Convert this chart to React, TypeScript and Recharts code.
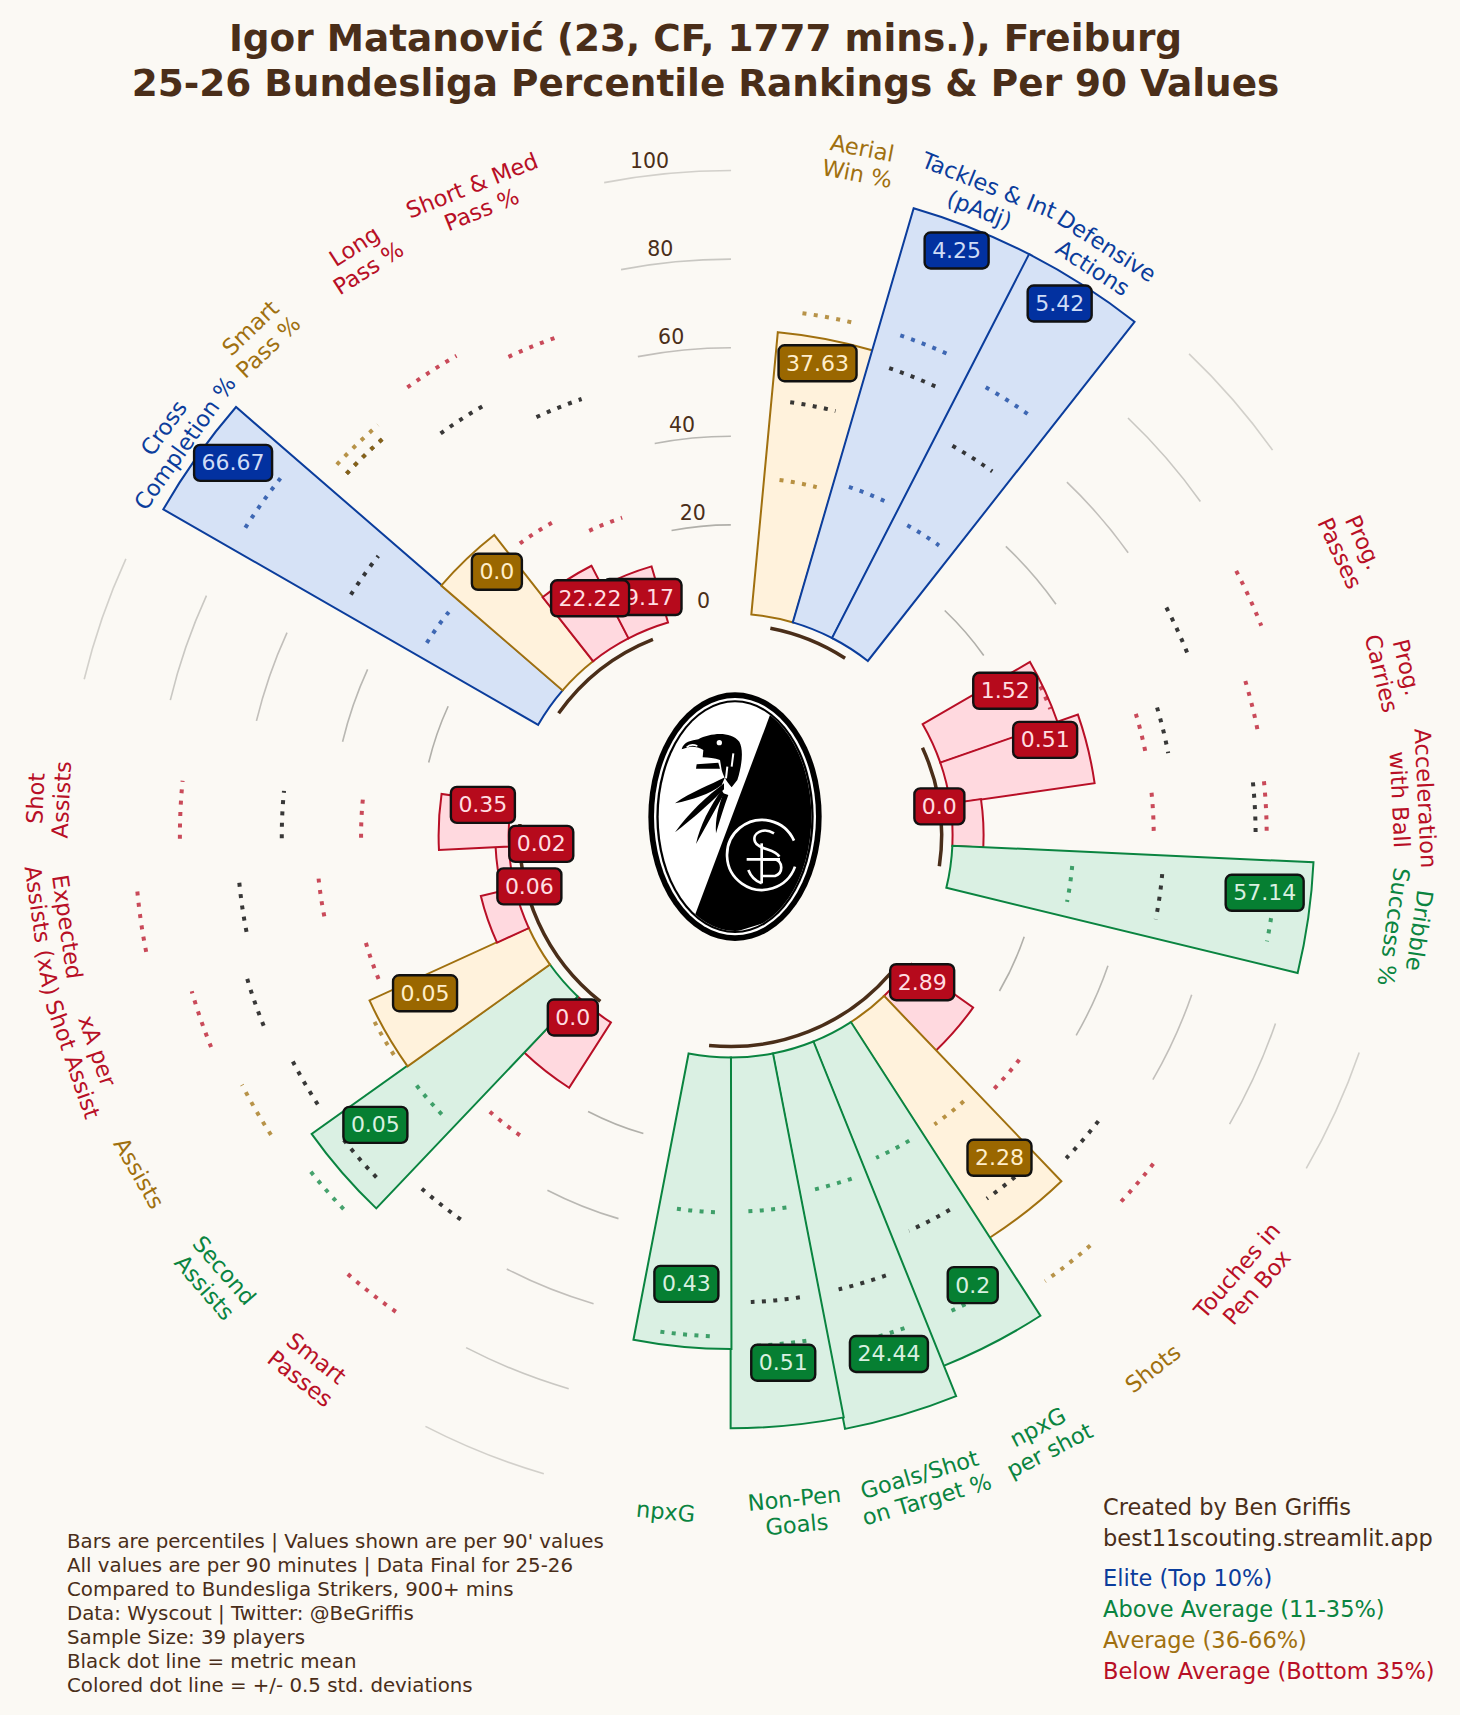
import { PolarAngleAxis, PolarRadiusAxis, RadialBar, RadialBarChart, Sector } from "recharts";

const metricNames = [
  "Aerial\nWin %", "Tackles & Int\n(pAdj)", "Defensive\nActions",
  "Prog.\nPasses", "Prog.\nCarries", "Acceleration\nwith Ball", "Dribble\nSuccess %",
  "Touches in\nPen Box", "Shots", "npxG\nper shot", "Goals/Shot\non Target %", "Non-Pen\nGoals", "npxG",
  "Smart\nPasses", "Second\nAssists", "Assists", "xA per\nShot Assist", "Expected\nAssists (xA)", "Shot\nAssists",
  "Cross\nCompletion %", "Smart\nPass %", "Long\nPass %", "Short & Med\nPass %",
];
const groupSizes = [3, 4, 6, 6, 4];
const percentiles = [64, 97.4, 97.4, 28, 32.9, 7, 81.6, 17, 57.9, 78.9, 86.3, 83.7, 65.8, 17.5, 66, 39.5, 7.9, 3, 15.8, 97.6, 36.2, 18.4, 13.2];
const perNinety = ["37.63", "4.25", "5.42", "1.52", "0.51", "0.0", "57.14", "2.89", "2.28", "0.2", "24.44", "0.51", "0.43", "0.0", "0.05", "0.05", "0.06", "0.02", "0.35", "66.67", "0.0", "22.22", "79.17"];
const tiers = ["average", "elite", "elite", "below", "below", "below", "above", "below", "average", "above", "above", "above", "above", "below", "above", "average", "below", "below", "below", "elite", "average", "below", "below"];
const meanLine = [48.6, 61.3, 51.1, 60.9, 50.4, 68.4, 47.7, 55, 50.2, 47.8, 55.2, 55.3, 51, 55.8, 61, 61.1, 63.7, 61.3, 51.2, 51.4, 69, 61.8, 54];
const lowLine = [30.9, 33, 30.5, 27.5, 45.4, 45.4, 27.3, 32.4, 29.7, 29.7, 32, 34.8, 35, 32.6, 40.5, 40.6, 35.7, 43.4, 33.3, 31.1, 69, 31.2, 25.7];
const highLine = [68.9, 69.1, 66.3, 78.7, 71.2, 70.9, 73.3, 70.7, 73, 68.2, 67.8, 65.2, 63, 81.3, 71.3, 73.7, 76.5, 84.4, 74.2, 79.6, 72, 74.6, 69];
const gridTicks = [20, 40, 60, 80, 100];
const axisTicks = [0, 20, 40, 60, 80, 100];

const footerLines = [
  "Bars are percentiles | Values shown are per 90' values",
  "All values are per 90 minutes | Data Final for 25-26",
  "Compared to Bundesliga Strikers, 900+ mins",
  "Data: Wyscout | Twitter: @BeGriffis",
  "Sample Size: 39 players",
  "Black dot line = metric mean",
  "Colored dot line = +/- 0.5 std. deviations",
];
const legendLines = [
  { text: "Elite (Top 10%)", tier: "elite" },
  { text: "Above Average (11-35%)", tier: "above" },
  { text: "Average (36-66%)", tier: "average" },
  { text: "Below Average (Bottom 35%)", tier: "below" },
];

const BROWN = "#4a2e19";
const PAPER = "#fbf9f4";
const FONT = "'DejaVu Sans', sans-serif";
const tierStyle: Record<string, { line: string; fill: string; box: string; ink: string }> = {
  elite: { line: "#0b3d9c", fill: "#d6e2f6", box: "#0231a0", ink: "#cfdcf6" },
  above: { line: "#0a8440", fill: "#daf0e3", box: "#067f32", ink: "#d9f0e0" },
  average: { line: "#a0700f", fill: "#fff2dc", box: "#9a6700", ink: "#ffeecb" },
  below: { line: "#b80f26", fill: "#ffd9df", box: "#b60a1c", ink: "#ffdde1" },
};

// table for the charts: every group is followed by two empty bands
type Row = { name: string; i?: number; span?: number; gapStart?: boolean };
const rows: Row[] = [];
let metric = 0;
groupSizes.forEach((size, g) => {
  for (let k = 0; k < size; k++) {
    rows.push({ name: metricNames[metric], i: metric, span: k === 0 ? size : 0 });
    metric++;
  }
  rows.push({ name: `gap-${g}-a`, gapStart: true });
  rows.push({ name: `gap-${g}-b` });
});

const CX = 730.6;
const CY = 835.5;
const R0 = 222;
const R100 = 665;
const BAND = 360 / rows.length;
const FIRST_EDGE = 84.55; // leading edge of the first bar

const polar = (r: number, a: number) => ({
  x: CX + r * Math.cos((a * Math.PI) / 180),
  y: CY - r * Math.sin((a * Math.PI) / 180),
});
const arcPath = (r: number, a0: number, a1: number) => {
  const p0 = polar(r, a0);
  const p1 = polar(r, a1);
  return `M${p0.x} ${p0.y}A${r} ${r} 0 0 ${a0 > a1 ? 1 : 0} ${p1.x} ${p1.y}`;
};
const has = (p: any) => p.payload && p.payload.i !== undefined;

const barShape = (p: any) => {
  if (!has(p)) return null;
  const t = tierStyle[tiers[p.payload.i]];
  return (
    <Sector
      cx={p.cx}
      cy={p.cy}
      innerRadius={p.innerRadius}
      outerRadius={p.outerRadius}
      startAngle={p.startAngle}
      endAngle={p.endAngle}
      fill={t.fill}
      stroke={t.line}
      strokeWidth={2}
    />
  );
};

const dotShape = (colored: boolean) => (p: any) => {
  if (!has(p)) return null;
  const mid = (p.startAngle + p.endAngle) / 2;
  const half = Math.abs(p.endAngle - p.startAngle) * 0.275;
  return (
    <path
      d={arcPath(p.outerRadius, mid + half, mid - half)}
      fill="none"
      stroke={colored ? tierStyle[tiers[p.payload.i]].line : "#222"}
      strokeOpacity={colored ? 0.75 : 0.9}
      strokeWidth={4}
      strokeDasharray="4 7.4"
    />
  );
};

const gridShape = (p: any) => {
  if (!p.payload || !p.payload.gapStart) return null;
  const mid = (p.startAngle + p.endAngle) / 2;
  const band = Math.abs(p.endAngle - p.startAngle);
  const fade = 1 - (0.5 * (p.outerRadius - R0)) / (R100 - R0);
  return <path d={arcPath(p.outerRadius, mid, mid - band)} fill="none" stroke="#a9a7a2" strokeOpacity={fade} strokeWidth={1.6} />;
};

const groupArcShape = (p: any) => {
  if (!p.payload || !p.payload.span) return null;
  const mid = (p.startAngle + p.endAngle) / 2;
  const band = Math.abs(p.endAngle - p.startAngle);
  return <path d={arcPath(p.outerRadius - 11, mid, mid - band * (p.payload.span - 1))} fill="none" stroke={BROWN} strokeWidth={3.5} />;
};

const labelShape = (p: any) => {
  if (!has(p)) return null;
  const text = perNinety[p.payload.i];
  const t = tierStyle[tiers[p.payload.i]];
  const at = polar(p.outerRadius - 44, (p.startAngle + p.endAngle) / 2);
  const width = (text.length - 1) * 14 + 7 + 15;
  const y = at.y - 19;
  return (
    <g>
      <rect x={at.x - width / 2} y={y - 18} width={width} height={36} rx={6} fill={t.box} stroke="#111" strokeWidth={2.4} />
      <text x={at.x} y={y} fill={t.ink} fontSize={22} fontFamily={FONT} textAnchor="middle" dominantBaseline="central">
        {text}
      </text>
    </g>
  );
};

const metricTick = (p: any) => {
  const name: string = p.payload.value;
  const idx = metricNames.indexOf(name);
  if (idx < 0) return <g />;
  const theta = ((90 - p.payload.coordinate) % 360 + 360) % 360;
  const rot = theta > 100 && theta < 270 ? theta - 180 : theta;
  const lines = name.split("\n");
  const y = p.y - 4;
  return (
    <text
      x={p.x}
      y={y}
      transform={`rotate(${rot} ${p.x} ${y})`}
      fill={tierStyle[tiers[idx]].line}
      fontSize={22.5}
      fontFamily={FONT}
      textAnchor="middle"
    >
      {lines.map((line, n) => (
        <tspan key={n} x={p.x} y={y + (n - (lines.length - 1) / 2) * 26 + 8}>
          {line}
        </tspan>
      ))}
    </text>
  );
};

const valueTick = (p: any) => (
  <text x={p.x} y={p.y - 14} fill={BROWN} fontSize={20.5} fontFamily={FONT} textAnchor="middle" dominantBaseline="central">
    {p.payload.value}
  </text>
);

function PolarLayer({ dataKey, shape, names, values, reversed, first = FIRST_EDGE - BAND }: any) {
  const data = reversed ? [...rows].reverse() : rows;
  return (
    <div style={{ position: "absolute", left: 0, top: 0 }}>
      <RadialBarChart
        width={1460}
        height={1715}
        data={data}
        layout="centric"
        cx={CX}
        cy={CY}
        innerRadius={R0}
        outerRadius={R100}
        startAngle={reversed ? first + 2 * BAND - 360 : first}
        endAngle={reversed ? first + 2 * BAND : first - 360}
        barCategoryGap={0}
        margin={{ top: 0, right: 0, bottom: 0, left: 0 }}
      >
        <PolarAngleAxis
          type="category"
          dataKey="name"
          axisLine={false}
          tickLine={false}
          tickSize={18}
          tick={names ? metricTick : false}
        />
        <PolarRadiusAxis
          type="number"
          domain={[0, 100]}
          angle={97}
          ticks={axisTicks}
          axisLine={false}
          tickLine={false}
          tick={values ? valueTick : false}
        />
        <RadialBar dataKey={dataKey} shape={shape} isAnimationActive={false} />
      </RadialBarChart>
    </div>
  );
}

function Crest() {
  return (
    <svg width={220} height={290} viewBox="0 0 660 870" style={{ position: "absolute", left: 620, top: 670 }}>
      <defs>
        <clipPath id="crest-inner">
          <ellipse cx={345} cy={440} rx={229} ry={343} />
        </clipPath>
      </defs>
      <ellipse cx={345} cy={440} rx={260} ry={373} fill="#000" />
      <ellipse cx={345} cy={440} rx={243} ry={356} fill="#fff" />
      <ellipse cx={345} cy={440} rx={236} ry={349} fill="#000" />
      <ellipse cx={345} cy={440} rx={229} ry={343} fill="#fff" />
      <polygon points="452,130 225,735 300,800 620,700 620,130" fill="#000" clipPath="url(#crest-inner)" />
      <path
        d="M185 238C190 215 215 212 235 208C270 190 330 182 358 215C372 240 365 290 352 330L335 352C325 340 312 325 305 300L300 270C285 265 265 262 248 262L250 240C230 228 210 228 195 235Z"
        fill="#000"
      />
      <circle cx={298} cy={218} r={8} fill="#fff" />
      <path d="M200 232C208 224 222 224 232 228" fill="none" stroke="#fff" strokeWidth={5} />
      <path d="M340 250L335 290M322 290L318 325" fill="none" stroke="#fff" strokeWidth={6} />
      <path d="M230 283L295 278L300 296L228 296Z" fill="#000" />
      <path d="M315 322C270 345 215 365 165 400C215 390 270 372 305 345Z" fill="#000" />
      <path d="M312 340C260 380 205 430 165 487C220 445 270 400 312 358Z" fill="#000" />
      <path d="M305 360C270 410 240 465 228 522C255 475 285 420 312 372Z" fill="#000" />
      <path d="M310 370C295 410 285 450 288 490C300 450 312 410 325 375Z" fill="#000" />
      <g fill="none" stroke="#fff" strokeWidth={8}>
        <path d="M522 512A105 105 0 1 0 525 590" />
        <path d="M462 490C430 470 395 490 405 515C415 540 465 535 478 560" />
        <path d="M380 568H480" />
        <path d="M425 520V640" />
        <path d="M425 568H465C490 575 490 610 465 618H425" />
        <path d="M385 600C395 625 410 635 425 640" />
      </g>
    </svg>
  );
}

const textStyle = { position: "absolute", fontFamily: FONT, whiteSpace: "nowrap" } as const;

export default function App() {
  return (
    <div style={{ position: "absolute", left: 0, top: 0, width: 1460, height: 1715, background: PAPER, overflow: "hidden" }}>
      {gridTicks.map((t) => (
        <PolarLayer key={t} dataKey={(r: Row) => (r.gapStart ? t : null)} shape={gridShape} />
      ))}
      <PolarLayer dataKey={(r: Row) => (r.i !== undefined ? percentiles[r.i] : null)} shape={barShape} values />
      <PolarLayer dataKey={(r: Row) => null} shape={() => null} names first={FIRST_EDGE - BAND / 2} />
      <PolarLayer dataKey={(r: Row) => (r.i !== undefined ? meanLine[r.i] : null)} shape={dotShape(false)} />
      <PolarLayer dataKey={(r: Row) => (r.i !== undefined ? lowLine[r.i] : null)} shape={dotShape(true)} />
      <PolarLayer dataKey={(r: Row) => (r.i !== undefined ? highLine[r.i] : null)} shape={dotShape(true)} />
      <PolarLayer dataKey={(r: Row) => (r.span ? 0 : null)} shape={groupArcShape} />
      <PolarLayer dataKey={(r: Row) => (r.i !== undefined ? percentiles[r.i] : null)} shape={labelShape} reversed />
      <Crest />

      <div style={{ ...textStyle, left: 0, width: 1411, top: 16, textAlign: "center", fontSize: 37.4, fontWeight: 700, lineHeight: "45px", color: BROWN }}>
        Igor Matanović (23, CF, 1777 mins.), Freiburg
        <br />
        25-26 Bundesliga Percentile Rankings &amp; Per 90 Values
      </div>
      {footerLines.map((line, n) => (
        <div key={n} style={{ ...textStyle, left: 67, top: 1530 + n * 24, fontSize: 19.8, lineHeight: "24px", color: BROWN }}>
          {line}
        </div>
      ))}
      <div style={{ ...textStyle, left: 1103, top: 1492, fontSize: 22.5, lineHeight: "31px", color: BROWN }}>
        Created by Ben Griffis
        <br />
        best11scouting.streamlit.app
      </div>
      {legendLines.map((l, n) => (
        <div key={l.tier} style={{ ...textStyle, left: 1103, top: 1563 + n * 31, fontSize: 22.5, lineHeight: "31px", color: tierStyle[l.tier].line }}>
          {l.text}
        </div>
      ))}
    </div>
  );
}
